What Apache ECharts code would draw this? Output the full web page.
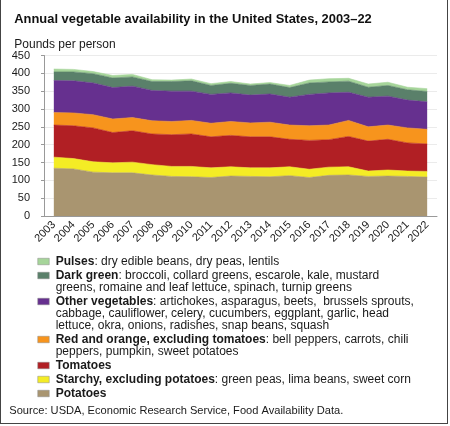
<!DOCTYPE html>
<html>
<head>
<meta charset="utf-8">
<script src="https://cdn.jsdelivr.net/npm/echarts@6/dist/echarts.min.js"></script>
<style>
  html, body { margin: 0; padding: 0; background: #fff; }
  #chart { position: absolute; left: 0; top: 0; width: 450px; height: 426px; }
  #frame { position: absolute; left: 0; top: 0; width: 448px; height: 424px; box-sizing: border-box;
           border-left: 1px solid #444; border-right: 1px solid #444; border-bottom: 1px solid #444; pointer-events: none; }
</style>
</head>
<body>
<div id="chart"></div>
<div id="frame"></div>
<script>
const years = ['2003','2004','2005','2006','2007','2008','2009','2010','2011','2012','2013','2014','2015','2016','2017','2018','2019','2020','2021','2022'];
const yTicks = [0, 50, 100, 150, 200, 250, 300, 350, 400, 450];

const potatoes  = [134, 132, 123, 121, 121, 115, 111, 110, 108, 112, 111, 110, 113, 108, 114, 115, 111, 112, 111, 109];
const starchy   = [31, 29, 29, 28, 30, 29, 28, 29, 27, 26, 24, 25, 25, 23, 23, 23, 15, 17, 15, 16];
const tomatoes  = [90, 92, 95, 85, 88, 86, 89, 91, 87, 88, 87, 87, 77, 81, 77, 85, 84, 86, 79, 77];
const redOrange = [35, 36, 37, 38, 37, 37, 37, 38, 38, 39, 39, 41, 40, 41, 41, 45, 40, 40, 42, 41];
const otherVeg  = [90, 90, 89, 88, 88, 85, 85, 82, 81, 80, 78, 79, 78, 88, 90, 79, 83, 81, 78, 77];
const darkGreen = [24, 25, 26, 27, 26, 25, 27, 29, 25, 27, 27, 28, 27, 32, 31, 31, 28, 30, 29, 29];
const pulses    = [8, 7, 6, 7, 7, 5, 4, 5, 5, 5, 4, 4, 6, 8, 9, 8, 9, 9, 7, 8];

const seriesNames = ['Potatoes', 'Starchy, excluding potatoes', 'Tomatoes', 'Red and orange, excluding tomatoes', 'Other vegetables', 'Dark green', 'Pulses'];
const seriesData = [potatoes, starchy, tomatoes, redOrange, otherVeg, darkGreen, pulses];
const seriesColors = ['#a99570', '#f4ec25', '#b11f24', '#f7941d', '#66308f', '#5a806a', '#a6d59a'];

// legend (top to bottom): name + description lines
const legendNames = ['Pulses', 'Dark green', 'Other vegetables', 'Red and orange, excluding tomatoes', 'Tomatoes', 'Starchy, excluding potatoes', 'Potatoes'];
const legendDescs = [
  ': dry edible beans, dry peas, lentils',
  ': broccoli, collard greens, escarole, kale, mustard\ngreens, romaine and leaf lettuce, spinach, turnip greens',
  ': artichokes, asparagus, beets,  brussels sprouts,\ncabbage, cauliflower, celery, cucumbers, eggplant, garlic, head\nlettuce, okra, onions, radishes, snap beans, squash',
  ': bell peppers, carrots, chili\npeppers, pumpkin, sweet potatoes',
  '',
  ': green peas, lima beans, sweet corn',
  ''
];
const legendColors = ['#a6d59a', '#5a806a', '#66308f', '#f7941d', '#b11f24', '#f4ec25', '#a99570'];

const FONT = '"Liberation Sans", Arial, Helvetica, sans-serif';
const chart = echarts.init(document.getElementById('chart'), null, { renderer: 'canvas' });

const graphics = [];
let y = 256;
const lineH = 12;
const gapBetween = 2;
legendNames.forEach((n, i) => {
  const desc = legendDescs[i];
  const parts = desc ? desc.split('\n') : [];
  const nLines = Math.max(1, parts.length);
  graphics.push({
    type: 'rect', left: 37.5, top: y + 2,
    shape: { width: 11.5, height: 6.5 },
    style: { fill: legendColors[i], stroke: '#8a8a8a', lineWidth: 0.5 }
  });
  let txt = '{b|' + n + '}';
  if (parts.length) {
    txt += '{n|' + parts[0] + '}';
    for (let k = 1; k < parts.length; k++) txt += '\n{n|' + parts[k] + '}';
  }
  graphics.push({
    type: 'text', left: 55.7, top: y,
    style: {
      text: txt,
      rich: {
        b: { fontWeight: 'bold', fontSize: 12, fontFamily: FONT, fill: '#1a1a1a', lineHeight: lineH },
        n: { fontSize: 12, fontFamily: FONT, fill: '#1a1a1a', lineHeight: lineH }
      },
      fontSize: 12, fontFamily: FONT, lineHeight: lineH
    }
  });
  y += nLines * lineH + gapBetween;
});
graphics.push({
  type: 'text', left: 9.3, top: 405,
  style: { text: 'Source: USDA, Economic Research Service, Food Availability Data.', fontSize: 11.1, fontFamily: FONT, fill: '#1a1a1a' }
});

chart.setOption({
  animation: false,
  backgroundColor: '#fff',
  title: [
    { text: 'Annual vegetable availability in the United States, 2003\u201322', left: 9.3, top: 8,
      textStyle: { fontSize: 12.9, fontWeight: 'bold', fontFamily: FONT, color: '#111' } },
    { text: 'Pounds per person', left: 9.3, top: 34,
      textStyle: { fontSize: 12, fontWeight: 'normal', fontFamily: FONT, color: '#1a1a1a' } }
  ],
  grid: { left: 44, right: 13, top: 55.5, bottom: 210 },
  xAxis: {
    type: 'category', data: years, boundaryGap: true,
    axisLine: { lineStyle: { color: '#999', width: 1 } },
    axisTick: { alignWithLabel: true, length: 4, lineStyle: { color: '#999' } },
    axisLabel: { rotate: 45, interval: 0, fontSize: 11, fontFamily: FONT, color: '#1a1a1a', margin: 7 }
  },
  yAxis: {
    type: 'value', min: yTicks[0], max: yTicks[yTicks.length - 1], interval: 50,
    axisLine: { show: true, lineStyle: { color: '#999', width: 1 } },
    axisTick: { show: true, length: 3, lineStyle: { color: '#999' } },
    axisLabel: { fontSize: 11, fontFamily: FONT, color: '#1a1a1a', margin: 14 },
    splitLine: { lineStyle: { color: '#ebebeb', width: 1 } }
  },
  series: seriesNames.map((n, i) => ({
    name: n, type: 'line', stack: 'total', data: seriesData[i],
    symbol: 'none', smooth: false,
    lineStyle: { width: 0.6, color: seriesColors[i] },
    areaStyle: { color: seriesColors[i], opacity: 1 },
    itemStyle: { color: seriesColors[i] }
  })),
  graphic: graphics
});
</script>
</body>
</html>
